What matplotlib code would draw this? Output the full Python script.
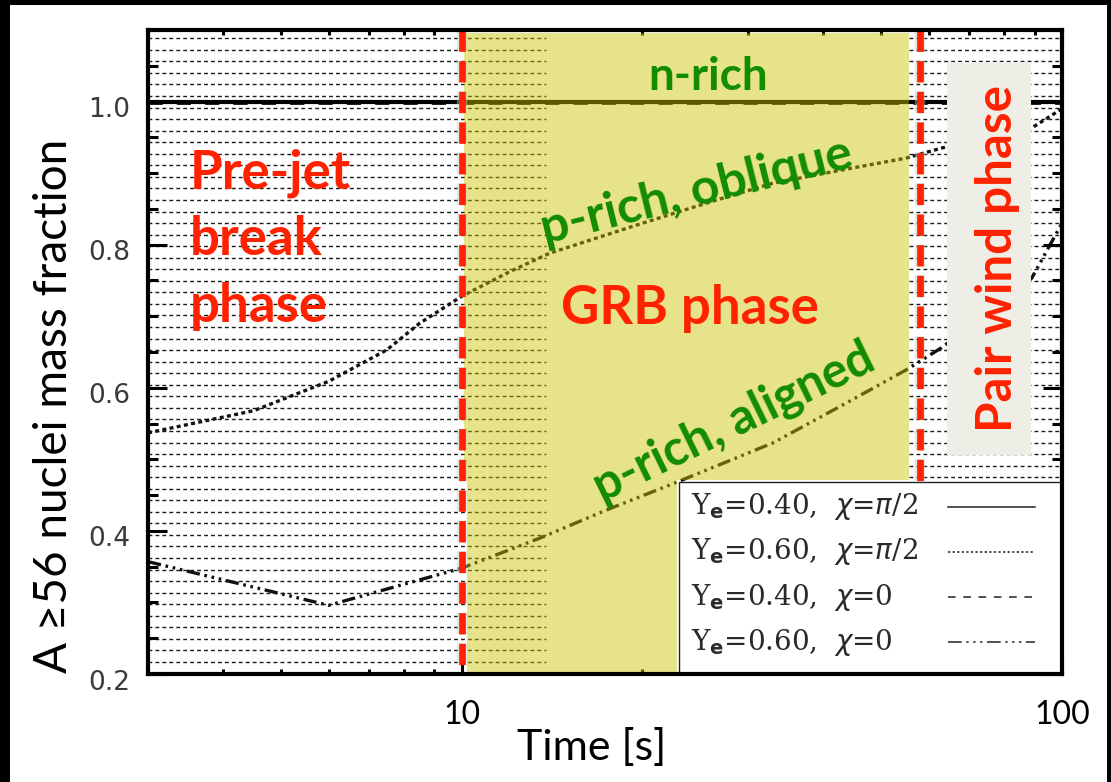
import numpy as np
import matplotlib
matplotlib.use("Agg")
import matplotlib.pyplot as plt
import matplotlib.patheffects as pe
import matplotlib.transforms as mtransforms
from matplotlib.patches import Rectangle
from matplotlib.ticker import FixedLocator, MultipleLocator, LogLocator, NullFormatter, FormatStrFormatter

# Mass fraction of A >= 56 nuclei against time, four (Ye, chi) models
time_solid = [3.0, 100.0]
frac_solid = [1.0, 1.0]

time_dashed = [3.0, 100.0]
frac_dashed = [1.0, 1.0]

time_dotted = [3.0, 4.5, 6.0, 7.5, 8.5, 10.0, 12.0, 14.0, 20.0, 26.0, 33.0, 44.0,
               55.0, 63.0, 80.0, 89.0, 100.0]
frac_dotted = [0.537, 0.568, 0.609, 0.653, 0.690, 0.728, 0.762, 0.788, 0.830, 0.860,
               0.886, 0.906, 0.921, 0.935, 0.955, 0.963, 0.990]

time_dashdot = [3.0, 6.0, 10.0, 13.5, 17.4, 22.8, 33.0, 44.0, 55.0, 63.0, 89.0, 100.0]
frac_dashdot = [0.357, 0.296, 0.348, 0.390, 0.429, 0.468, 0.523, 0.580, 0.625, 0.656,
                0.753, 0.830]

model_ye = ["0.40", "0.60", "0.40", "0.60"]
model_chi = [r"$\pi$/2", r"$\pi$/2", "0", "0"]

# phase boundaries [s]
jet_break_time = 10.0
pair_wind_time = 58.0

y_ticks = [0.2, 0.4, 0.6, 0.8, 1.0]
x_ticks = [10, 100]
x_tick_labels = ["10", "100"]

RED = "#FF2200"
GREEN = "#138C00"
BIG = ["Lato", "DejaVu Sans"]

dashdot3 = (0, (4.0, 1.4, 0.8, 1.4, 0.8, 1.4, 0.8, 1.4))
styles = ["-", (0, (1.2, 1.0)), (0, (3.0, 3.0)), dashdot3]
key_styles = ["-", (0, (1.5, 1.5)), (0, (5.0, 5.0)), (0, (9, 3, 1.5, 3, 1.5, 3, 1.5, 3))]

fig = plt.figure(figsize=(11.11, 7.82), dpi=100, facecolor="black")
fig.add_artist(Rectangle((10 / 1111, 0), 1097 / 1111, 777 / 782,
                         transform=fig.transFigure, facecolor="white",
                         edgecolor="none", zorder=-5))

ax = fig.add_axes([148 / 1111, 1 - 674 / 782, 914 / 1111, 644 / 782])
ax.set_xscale("log")
ax.set_xlim(3, 100)
ax.set_ylim(0.2, 1.1)

# dense dashed background rules (hidden under the opaque part of the GRB band)
rules = np.linspace(0.2168, 1.0884, 55)
upper = rules[rules > 0.471]
kw = dict(colors="#1a1a1a", linewidth=1.0, linestyles=[(0, (2.8, 2.2))], zorder=1)
ax.hlines(rules, 3, 13.8, **kw)
ax.hlines(upper, 55.5, 100, **kw)

# model curves
ax.plot(time_solid, frac_solid, color="black", lw=3.0, ls=styles[0], zorder=1.5)
ax.plot(time_dotted, frac_dotted, color="#111111", lw=2.4, ls=styles[1], zorder=1.5)
ax.plot(time_dashed, frac_dashed, color="black", lw=3.4, ls=styles[2], zorder=1.5)
ax.plot(time_dashdot, frac_dashdot, color="#111111", lw=2.4, ls=dashdot3, zorder=1.5)

# GRB phase band
band = dict(facecolor=(0.80, 0.77, 0.0), alpha=0.46, edgecolor="none", zorder=1.8)
ax.add_patch(Rectangle((10.1, 0.471), 55.5 - 10.1, 1.096 - 0.471, **band))
ax.add_patch(Rectangle((10.2, 0.2), 22.8 - 10.2, 0.471 - 0.2, **band))

# phase boundaries
glow = [pe.withStroke(linewidth=7.5, foreground="#c8c8c8", alpha=0.45)]
for tb in (jet_break_time, pair_wind_time):
    ax.plot([tb, tb], [1.1, 0.2], color=RED, lw=4.8, ls=(0, (3.2, 1.4)),
            zorder=2.2, path_effects=glow)

# label box for the pair wind phase
ax.add_patch(Rectangle((64.3, 0.506), 88.7 - 64.3, 1.0553 - 0.506,
                       facecolor="#EEEEE7", edgecolor="none", zorder=2.1))

# key box
ax.add_patch(Rectangle((23.0, 0.2), 100 - 23.0, 0.4684 - 0.2, facecolor="white",
                       edgecolor="#222222", lw=1.0, zorder=2.3))
row_y = [0.4334, 0.3705, 0.3076, 0.2447]
for ye, chi, ls, ry in zip(model_ye, model_chi, key_styles, row_y):
    label = r"Y$_\mathbf{e}$=" + ye + r",  $\chi$=" + chi
    ax.text(24.1, ry, label, fontsize=20, family="DejaVu Serif", color="#2a2a2a",
            va="center", ha="left", zorder=2.4)
    ax.plot([64.6, 90.1], [ry, ry], color="#222222", lw=1.1, ls=ls, zorder=2.4)

# phase and composition annotations
for txt, yy in zip(["Pre-jet", "break", "phase"], [0.879, 0.786, 0.692]):
    ax.text(3.52, yy, txt, color=RED, fontsize=38, fontweight="bold", family=BIG,
            ha="left", va="baseline", zorder=3)
ax.text(24.0, 0.689, "GRB phase", color=RED, fontsize=38, fontweight="bold",
        family=BIG, ha="center", va="baseline", zorder=3)
ax.text(78.0, 0.780, "Pair wind phase", color=RED, fontsize=35.5, fontweight="bold",
        family=BIG, ha="center", va="center", rotation=90, zorder=3)
ax.text(25.7, 1.016, "n-rich", color=GREEN, fontsize=33, fontweight="bold",
        family=BIG, ha="center", va="baseline", zorder=3)
ax.text(24.6, 0.874, "p-rich, oblique", color=GREEN, fontsize=36, fontweight="bold",
        family=BIG, ha="center", va="center", rotation=14, rotation_mode="anchor",
        zorder=3)
ax.text(28.4, 0.552, "p-rich, aligned", color=GREEN, fontsize=35, fontweight="bold",
        family=BIG, ha="center", va="center", rotation=26, rotation_mode="anchor",
        zorder=3)

# axes styling
for sp in ax.spines.values():
    sp.set_linewidth(3.0)
ax.xaxis.set_major_locator(FixedLocator(x_ticks))
ax.set_xticklabels(x_tick_labels)
ax.xaxis.set_minor_locator(LogLocator(base=10, subs=np.arange(2, 10)))
ax.xaxis.set_minor_formatter(NullFormatter())
ax.yaxis.set_major_locator(FixedLocator(y_ticks))
ax.yaxis.set_major_formatter(FormatStrFormatter("%.1f"))
ax.yaxis.set_minor_locator(MultipleLocator(0.05))

ax.tick_params(which="both", direction="in", top=True, right=True, width=2.2,
               color="black")
ax.tick_params(axis="y", which="major", length=14, pad=13, labelsize=19,
               labelcolor="#3a3a3a")
ax.tick_params(axis="y", which="minor", length=7)
ax.tick_params(axis="x", which="major", length=10, pad=19, labelsize=23)
ax.tick_params(axis="x", which="minor", length=3.6)
shift = mtransforms.ScaledTranslation(0, -4 / 72, fig.dpi_scale_trans)
for lab in ax.get_yticklabels():
    lab.set_family("DejaVu Sans")
    lab.set_transform(lab.get_transform() + shift)
for lab in ax.get_xticklabels():
    lab.set_family(BIG)

fig.text(592 / 1111, 1 - 748 / 782, "Time [s]", fontsize=31, family=BIG,
         ha="center", va="center")
fig.text(54 / 1111, 1 - 406 / 782, "A \u226556 nuclei mass fraction", fontsize=33,
         family=BIG, rotation=90, ha="center", va="center")

fig.savefig("out.png", dpi=100, facecolor=fig.get_facecolor())
